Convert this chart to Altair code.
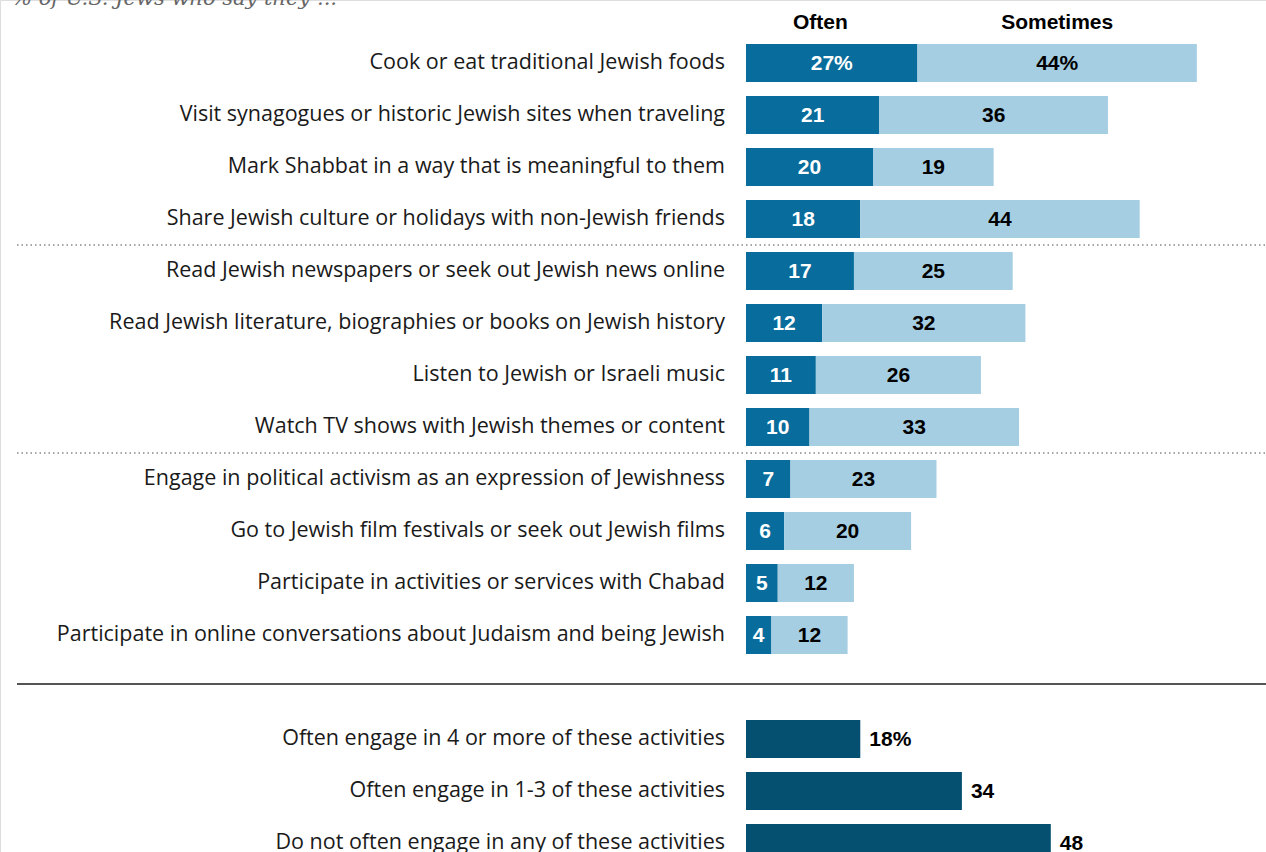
import altair as alt
import pandas as pd

items = [
    "Cook or eat traditional Jewish foods",
    "Visit synagogues or historic Jewish sites when traveling",
    "Mark Shabbat in a way that is meaningful to them",
    "Share Jewish culture or holidays with non-Jewish friends",
    "Read Jewish newspapers or seek out Jewish news online",
    "Read Jewish literature, biographies or books on Jewish history",
    "Listen to Jewish or Israeli music",
    "Watch TV shows with Jewish themes or content",
    "Engage in political activism as an expression of Jewishness",
    "Go to Jewish film festivals or seek out Jewish films",
    "Participate in activities or services with Chabad",
    "Participate in online conversations about Judaism and being Jewish",
]
often = [27, 21, 20, 18, 17, 12, 11, 10, 7, 6, 5, 4]
sometimes = [44, 36, 19, 44, 25, 32, 26, 33, 23, 20, 12, 12]

summary_labels = [
    "Often engage in 4 or more of these activities",
    "Often engage in 1-3 of these activities",
    "Do not often engage in any of these activities",
]
summary_values = [18, 34, 48]

subtitle = "% of U.S. Jews who say they ..."

C_OFTEN = "#086c9c"
C_SOME = "#a5cee3"
C_SUM = "#054f70"
FONT = "Open Sans"
VFONT = "Liberation Sans"
LSIZE = 21.5

rows = pd.DataFrame({
    "item": items,
    "row": list(range(len(items))),
    "often": often,
    "total": [a + b for a, b in zip(often, sometimes)],
    "often_mid": [a / 2 for a in often],
    "some_mid": [a + b / 2 for a, b in zip(often, sometimes)],
    "often_lbl": [f"{v}%" if i == 0 else str(v) for i, v in enumerate(often)],
    "some_lbl": [f"{v}%" if i == 0 else str(v) for i, v in enumerate(sometimes)],
})
summ = pd.DataFrame({
    "item": summary_labels,
    "row": [13, 14, 15],
    "value": summary_values,
    "lbl": [f"{v}%" if i == 0 else str(v) for i, v in enumerate(summary_values)],
})

xs = alt.Scale(domain=[-117.48, 81.89], range=[0, 1266], nice=False, zero=False, padding=0)
ys = alt.Scale(domain=[-1.2115, 15.173], range=[0, 852], nice=False, zero=False, padding=0)

def X(f):
    return alt.X(f, type="quantitative", scale=xs, axis=None)

def Y(f):
    return alt.Y(f, type="quantitative", scale=ys, axis=None)

base = alt.Chart(rows)
bar_often = base.mark_bar(size=38, orient="horizontal", color=C_OFTEN).encode(
    x=X("z"), x2="often:Q", y=Y("row")
).transform_calculate(z="0")
bar_some = base.mark_bar(size=38, orient="horizontal", color=C_SOME).encode(
    x=X("often"), x2="total:Q", y=Y("row")
)
txt_often = base.mark_text(font=VFONT, fontSize=21, fontWeight="bold", color="white",
                           baseline="middle", align="center", dy=1).encode(
    x=X("often_mid"), y=Y("row"), text="often_lbl:N")
txt_some = base.mark_text(font=VFONT, fontSize=21, fontWeight="bold", color="black",
                          baseline="middle", align="center", dy=1).encode(
    x=X("some_mid"), y=Y("row"), text="some_lbl:N")
lbl = base.mark_text(font=FONT, fontSize=LSIZE, color="#1a1a1a", baseline="middle",
                     align="right", dx=-21).encode(
    x=X("z"), y=Y("row"), text="item:N"
).transform_calculate(z="0")

sbase = alt.Chart(summ)
sbar = sbase.mark_bar(size=38, orient="horizontal", color=C_SUM).encode(
    x=X("z"), x2="value:Q", y=Y("row")
).transform_calculate(z="0")
stxt = sbase.mark_text(font=VFONT, fontSize=21, fontWeight="bold", color="black",
                       baseline="middle", align="left", dx=9, dy=1).encode(
    x=X("value"), y=Y("row"), text="lbl:N")
slbl = sbase.mark_text(font=FONT, fontSize=LSIZE, color="#1a1a1a", baseline="middle",
                       align="right", dx=-21).encode(
    x=X("z"), y=Y("row"), text="item:N"
).transform_calculate(z="0")

hdr = pd.DataFrame({"h": ["Often", "Sometimes"],
                    "x": [often[0] / 2 - 1.8, often[0] + sometimes[0] / 2],
                    "y": [-0.77, -0.77]})
header = alt.Chart(hdr).mark_text(font=VFONT, fontSize=21, fontWeight="bold", color="black",
                                  baseline="middle", align="center").encode(
    x=X("x"), y=Y("y"), text="h:N")

seps = pd.DataFrame({"y": [3.5, 7.5]})
dotted = alt.Chart(seps).mark_rule(color="#888888", strokeWidth=1.5, strokeDash=[1.5, 3]).encode(
    x=alt.value(17), x2=alt.value(1266), y=Y("y"))
solid = alt.Chart(pd.DataFrame({"y": [11.94]})).mark_rule(color="#555555", strokeWidth=2).encode(
    x=alt.value(17), x2=alt.value(1266), y=Y("y"))

sub = alt.Chart(pd.DataFrame({"t": [subtitle]})).mark_text(
    font="DejaVu Serif", fontSize=21, fontStyle="italic", color="#666666",
    align="left", baseline="alphabetic").encode(
    x=alt.value(12), y=alt.value(5), text="t:N")

chart = alt.layer(
    dotted, solid, bar_often, bar_some, txt_often, txt_some, lbl,
    sbar, stxt, slbl, header, sub
).properties(
    width=1266, height=852, padding=0, autosize=alt.AutoSizeParams(type="none")
).configure_view(strokeWidth=0, stroke="transparent").configure(background="white")

chart.save("out.html", embed_options={"renderer": "svg", "actions": False})
